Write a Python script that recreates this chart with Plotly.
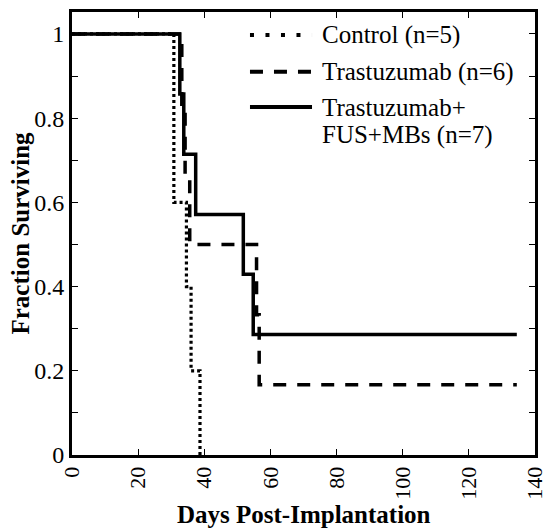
import plotly.graph_objects as go

# Kaplan-Meier step data
control_days = [0, 30.8, 34.6, 36.0, 38.7]
control_surv = [1.0, 0.6, 0.4, 0.2, 0.0]

trast_days = [0, 33.2, 34.2, 35.6, 55.8, 56.6, 134.5]
trast_surv = [1.0, 0.833, 0.667, 0.5, 0.333, 0.167, 0.167]

combo_days = [0, 32.6, 33.8, 37.4, 51.8, 54.8, 134.5]
combo_surv = [1.0, 0.857, 0.714, 0.571, 0.429, 0.286, 0.286]

series_names = ["Control (n=5)", "Trastuzumab (n=6)", "Trastuzumab+<br>FUS+MBs (n=7)"]

x_ticks = [0, 20, 40, 60, 80, 100, 120, 140]
y_ticks = [0, 0.2, 0.4, 0.6, 0.8, 1]
y_tick_labels = ["0", "0.2", "0.4", "0.6", "0.8", "1"]

FONT = "Liberation Serif"
DOT = "3px,3px"
DASH = "13px,11px"

fig = go.Figure()
fig.add_trace(go.Scatter(x=control_days, y=control_surv, mode="lines", name=series_names[0],
                         line=dict(color="black", width=3.2, dash=DOT, shape="hv")))
fig.add_trace(go.Scatter(x=trast_days, y=trast_surv, mode="lines", name=series_names[1],
                         line=dict(color="black", width=3.5, dash=DASH, shape="hv")))
fig.add_trace(go.Scatter(x=combo_days, y=combo_surv, mode="lines", name=series_names[2],
                         line=dict(color="black", width=3.5, shape="hv")))

# Manual legend (to match long sample lines)
L = dict(x0=0.3844, x1=0.5184)
legend_rows = [(0.948, "4px,11.5px"), (0.865, DASH), (0.7856, "solid")]
for yy, dsh in legend_rows:
    fig.add_shape(type="line", xref="paper", yref="paper", x0=L["x0"], x1=L["x1"], y0=yy, y1=yy,
                  line=dict(color="black", width=4, dash=dsh))
txt_x = 0.5356
for yy, t in [(0.948, "Control (n=5)"), (0.865, "Trastuzumab (n=6)"),
              (0.7833, "Trastuzumab+"), (0.7223, "FUS+MBs (n=7)")]:
    fig.add_annotation(xref="paper", yref="paper", x=txt_x, y=yy, text=t, showarrow=False,
                       xanchor="left", yanchor="middle", font=dict(family=FONT, size=25, color="black"))

# Axis titles
fig.add_annotation(xref="paper", yref="paper", x=0.5, y=-0.1354, text="<b>Days Post-Implantation</b>",
                   showarrow=False, xanchor="center", yanchor="middle",
                   font=dict(family=FONT, size=25, color="black"))
fig.add_annotation(xref="paper", yref="paper", x=-0.1123, y=0.5, text="<b>Fraction Surviving</b>",
                   showarrow=False, xanchor="center", yanchor="middle", textangle=-90,
                   font=dict(family=FONT, size=25, color="black"))

fig.update_layout(
    width=543, height=529,
    margin=dict(l=72, r=8, t=12, b=74, pad=0, autoexpand=False),
    paper_bgcolor="white", plot_bgcolor="white",
    showlegend=False,
    font=dict(family=FONT, color="black"),
)
fig.update_xaxes(range=[0, 140], tickvals=x_ticks, ticktext=[str(v) for v in x_ticks],
                 tickangle=-90, ticks="inside", ticklen=6, tickwidth=1.2, tickcolor="black",
                 ticklabeloverflow="allow", automargin=False,
                 showline=True, linecolor="black", linewidth=3, mirror="ticks",
                 showgrid=False, zeroline=False, tickfont=dict(family=FONT, size=22, color="black"))
fig.update_yaxes(range=[0, 1.052], tickvals=y_ticks, ticktext=y_tick_labels,
                 ticks="inside", ticklen=6, tickwidth=1.2, tickcolor="black",
                 ticklabeloverflow="allow", automargin=False,
                 minor=dict(dtick=0.1, ticks="inside", ticklen=6, tickwidth=1.2, tickcolor="black"),
                 showline=True, linecolor="black", linewidth=3, mirror="ticks",
                 showgrid=False, zeroline=False, tickfont=dict(family=FONT, size=24, color="black"))

fig.write_html("out.html", config={"displayModeBar": False},
               post_script="document.body.style.margin='0';document.body.style.overflow='hidden';")
